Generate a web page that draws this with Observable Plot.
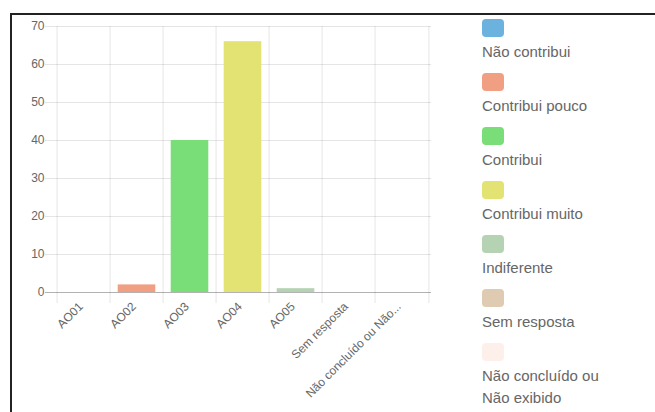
<!DOCTYPE html>
<html>
<head>
<meta charset="utf-8">
<script src="https://cdn.jsdelivr.net/npm/d3@7"></script>
<script src="https://cdn.jsdelivr.net/npm/@observablehq/plot@0.6"></script>
<style>
  body { margin: 0; background: #fff; font-family: "Liberation Sans", Arial, sans-serif; }
  #wrap { position: relative; width: 655px; height: 412px; overflow: hidden; }
  #frame { position: absolute; left: 10px; top: 13px; right: -10px; bottom: -10px;
           border-top: 2px solid #222; border-left: 2px solid #222; }
  #chart { position: absolute; left: 0; top: 0; }
  #legend { position: absolute; left: 482px; top: 19px; width: 140px;
            color: #666; font-size: 15px; line-height: 22px; }
  .item { margin-bottom: 10px; }
  .sw { width: 22px; height: 18px; border-radius: 4px; margin-bottom: 4px; }
</style>
</head>
<body>
<div id="wrap">
  <div id="frame"></div>
  <div id="chart"></div>
  <div id="legend"></div>
</div>
<script>
// Answer codes, their descriptions and response counts
const codes = ["AO01", "AO02", "AO03", "AO04", "AO05", "Sem resposta", "Não concluído ou Não exibido"];
const names = ["Não contribui", "Contribui pouco", "Contribui", "Contribui muito", "Indiferente", "Sem resposta", "Não concluído ou Não exibido"];
const counts = [0, 2, 40, 66, 1, 0, 0];
const colors = ["#6cb2de", "#f19f82", "#79de78", "#e2e372", "#b5d2b3", "#decbb1", "#fdf0ea"];
const yTicks = [0, 10, 20, 30, 40, 50, 60, 70];

const rows = codes.map((code, i) => ({code, name: names[i], count: counts[i]}));

const W = 655, H = 412;
const mL = 54, mR = 224, mT = 26, mB = 120;
const band = (W - mL - mR) / codes.length;
const grid = {stroke: "#000", strokeOpacity: 0.1};

const truncate = s => s.length > 20 ? s.slice(0, 20) + "..." : s;

const chart = Plot.plot({
  width: W,
  height: H,
  marginLeft: mL,
  marginRight: mR,
  marginTop: mT,
  marginBottom: mB,
  style: {fontFamily: "'Liberation Sans', Arial, sans-serif", fontSize: "12px", color: "#666", background: "transparent"},
  x: {type: "band", domain: codes, padding: 0, label: null},
  y: {domain: [0, 70], label: null},
  color: {domain: codes, range: colors},
  marks: [
    // horizontal grid with short tick stubs to the left
    Plot.ruleY(yTicks.filter(t => t > 0), {...grid, insetLeft: -9}),
    // vertical grid on category boundaries, extending below the baseline
    Plot.ruleX(codes, {x: d => d, dx: -band / 2, insetBottom: -11, ...grid}),
    Plot.ruleX(codes.slice(-1), {x: d => d, dx: band / 2, insetBottom: -11, ...grid}),
    Plot.barY(rows, {x: "code", y: "count", fill: "code", insetLeft: 7.7, insetRight: 7.7}),
    Plot.ruleY([0], {stroke: "#000", strokeOpacity: 0.3, insetLeft: -9}),
    Plot.axisY({ticks: yTicks, tickSize: 0, tickPadding: 10, label: null}),
    Plot.axisX({tickRotate: -45, tickSize: 0, tickPadding: 12, dx: -3, tickFormat: truncate, label: null})
  ]
});
document.getElementById("chart").appendChild(chart);

// legend: swatch above each description
const legend = d3.select("#legend");
rows.forEach((r, i) => {
  const item = legend.append("div").attr("class", "item");
  item.append("div").attr("class", "sw").style("background", colors[i]);
  item.append("div").text(r.name);
});
</script>
</body>
</html>
